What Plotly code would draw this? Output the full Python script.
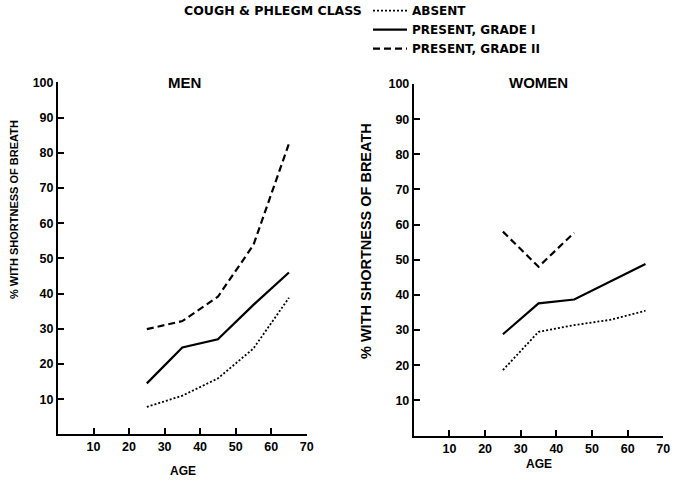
import plotly.graph_objects as go

# Age-group midpoints (years)
ages = [25, 35, 45, 55, 65]
ages_women_grade2 = [25, 35, 45]

# % with shortness of breath, men
men_absent = [7.8, 11.0, 15.9, 24.4, 38.8]
men_grade1 = [14.5, 24.7, 27.0, 36.8, 46.0]
men_grade2 = [29.9, 32.2, 39.1, 53.8, 82.6]

# % with shortness of breath, women
women_absent = [18.6, 29.5, 31.4, 32.9, 35.5]
women_grade1 = [28.8, 37.6, 38.7, 43.7, 48.8]
women_grade2 = [58.0, 48.0, 57.7]

series_names = ["ABSENT", "PRESENT, GRADE I", "PRESENT, GRADE II"]
x_ticks = [10, 20, 30, 40, 50, 60, 70]
y_ticks = [10, 20, 30, 40, 50, 60, 70, 80, 90, 100]

FONT = "Liberation Sans"
WIDE_FONT = "DejaVu Sans"
W, H = 674, 481

styles = [
    dict(color="black", width=1.8, dash="2px,2px"),
    dict(color="black", width=2.2, dash="solid"),
    dict(color="black", width=2.2, dash="7px,4px"),
]

fig = go.Figure()

men = [men_absent, men_grade1, men_grade2]
women = [women_absent, women_grade1, women_grade2]
for i, (name, ys) in enumerate(zip(series_names, men)):
    fig.add_trace(go.Scatter(x=ages, y=ys, mode="lines", name=name,
                             line=styles[i], xaxis="x", yaxis="y",
                             showlegend=True, legendrank=i))
for i, ys in enumerate(women):
    xs = ages if len(ys) == len(ages) else ages_women_grade2
    fig.add_trace(go.Scatter(x=xs, y=ys, mode="lines", name=series_names[i],
                             line=styles[i], xaxis="x2", yaxis="y2",
                             showlegend=False))

tickfont = dict(family=FONT, size=12.5, color="black", weight="bold")

def xax(domain, anchor):
    return dict(domain=domain, anchor=anchor, range=[0, 70], tickvals=x_ticks,
                ticks="inside", ticklen=6, tickwidth=1.5, tickcolor="black",
                showline=True, linecolor="black", linewidth=2,
                showgrid=False, zeroline=False, tickfont=tickfont,
                fixedrange=True)

def yax(domain, anchor):
    return dict(domain=domain, anchor=anchor, range=[0, 100], tickvals=y_ticks,
                ticks="inside", ticklen=6, tickwidth=1.5, tickcolor="black",
                showline=True, linecolor="black", linewidth=2,
                showgrid=False, zeroline=False, tickfont=tickfont,
                fixedrange=True)

left_x = [58 / W, 306.7 / W]
right_x = [413.8 / W, 663.3 / W]
left_y = [(H - 434.4) / H, (H - 82.4) / H]
right_y = [(H - 435.5) / H, (H - 84.0) / H]

def ann(text, x, y, size, angle=0, xanchor="center", family=FONT):
    return dict(text=text, x=x / W, y=(H - y) / H, xref="paper", yref="paper",
                showarrow=False, textangle=angle, xanchor=xanchor, yanchor="middle",
                font=dict(family=family, size=size, color="black", weight="bold"))

annotations = [
    ann("MEN", 184, 82, 15),
    ann("WOMEN", 538, 82, 15),
    ann("AGE", 183, 471, 12),
    ann("AGE", 539, 464, 12),
    ann("% WITH SHORTNESS OF BREATH", 14, 210, 11, angle=-90),
    ann("% WITH SHORTNESS OF BREATH", 366, 241, 14.5, angle=-90),
    ann("COUGH &amp; PHLEGM CLASS", 364, 10, 12.5, xanchor="right",
        family=WIDE_FONT),
]

fig.update_layout(
    width=W, height=H,
    margin=dict(l=0, r=0, t=0, b=0, autoexpand=False),
    paper_bgcolor="white", plot_bgcolor="white",
    xaxis=xax(left_x, "y"), yaxis=yax(left_y, "x"),
    xaxis2=xax(right_x, "y2"), yaxis2=yax(right_y, "x2"),
    annotations=annotations,
    legend=dict(x=368 / W, y=1.008, xanchor="left", yanchor="top",
                bgcolor="rgba(0,0,0,0)", itemwidth=34, tracegroupgap=0,
                font=dict(family=WIDE_FONT, size=12, color="black", weight="bold")),
    showlegend=True,
)

fig.write_html("out.html")
